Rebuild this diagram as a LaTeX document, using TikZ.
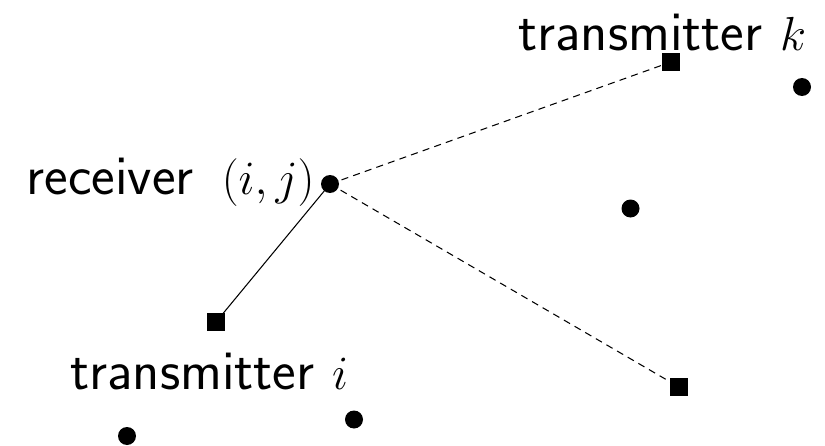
\RequirePackage{fix-cm}
\documentclass[tikz,border=0pt]{standalone}
\usepackage{tikz}
\usetikzlibrary{positioning}
\newcommand{\mth}[1]{{\fontsize{27.2}{33}\selectfont$#1$}}
\tikzset{
  rxdot/.style={circle,fill=black,inner sep=0pt,minimum size=3.6mm},
  txsq/.style={rectangle,fill=black,inner sep=0pt,minimum size=3.5mm},
  lbl/.style={inner sep=0pt,font=\sffamily\fontsize{32}{38}\selectfont},
  link/.style={line width=0.6pt},
  intf/.style={line width=0.6pt,dash pattern=on 4pt off 3pt},
}
\begin{document}
\begin{tikzpicture}
  \useasboundingbox (0,0) rectangle (16.5,-8.92);

  % receiver and transmitters
  \node[rxdot] (rx)  at (6.60,-3.68) {};
  \node[txsq]  (txi) at (4.32,-6.44) {};
  \node[txsq]  (txk) at (13.42,-1.24) {};
  \node[txsq]  (txl) at (13.58,-7.74) {};

  % other receivers
  \node[rxdot] (ra) at (16.04,-1.74) {};
  \node[rxdot] (rb) at (12.61,-4.17) {};
  \node[rxdot] (rc) at (7.08,-8.39) {};
  \node[rxdot] (rd) at (2.54,-8.72) {};

  % labels
  \node[lbl,anchor=base east] (lrx)  at (6.30,-3.90) {receiver\hspace{0.5em}\mth{(i,j)}};
  \node[lbl,anchor=base west] (ltxk) at (10.36,-1.00) {transmitter \mth{k}};
  \node[lbl,anchor=base west] (ltxi) at (1.40,-7.78) {transmitter \mth{i}};

  % links
  \draw[link] (rx.center) -- (txi.center);
  \draw[intf] (rx.center) -- (txk.center);
  \draw[intf] (rx.center) -- (txl.center);
\end{tikzpicture}
\end{document}
